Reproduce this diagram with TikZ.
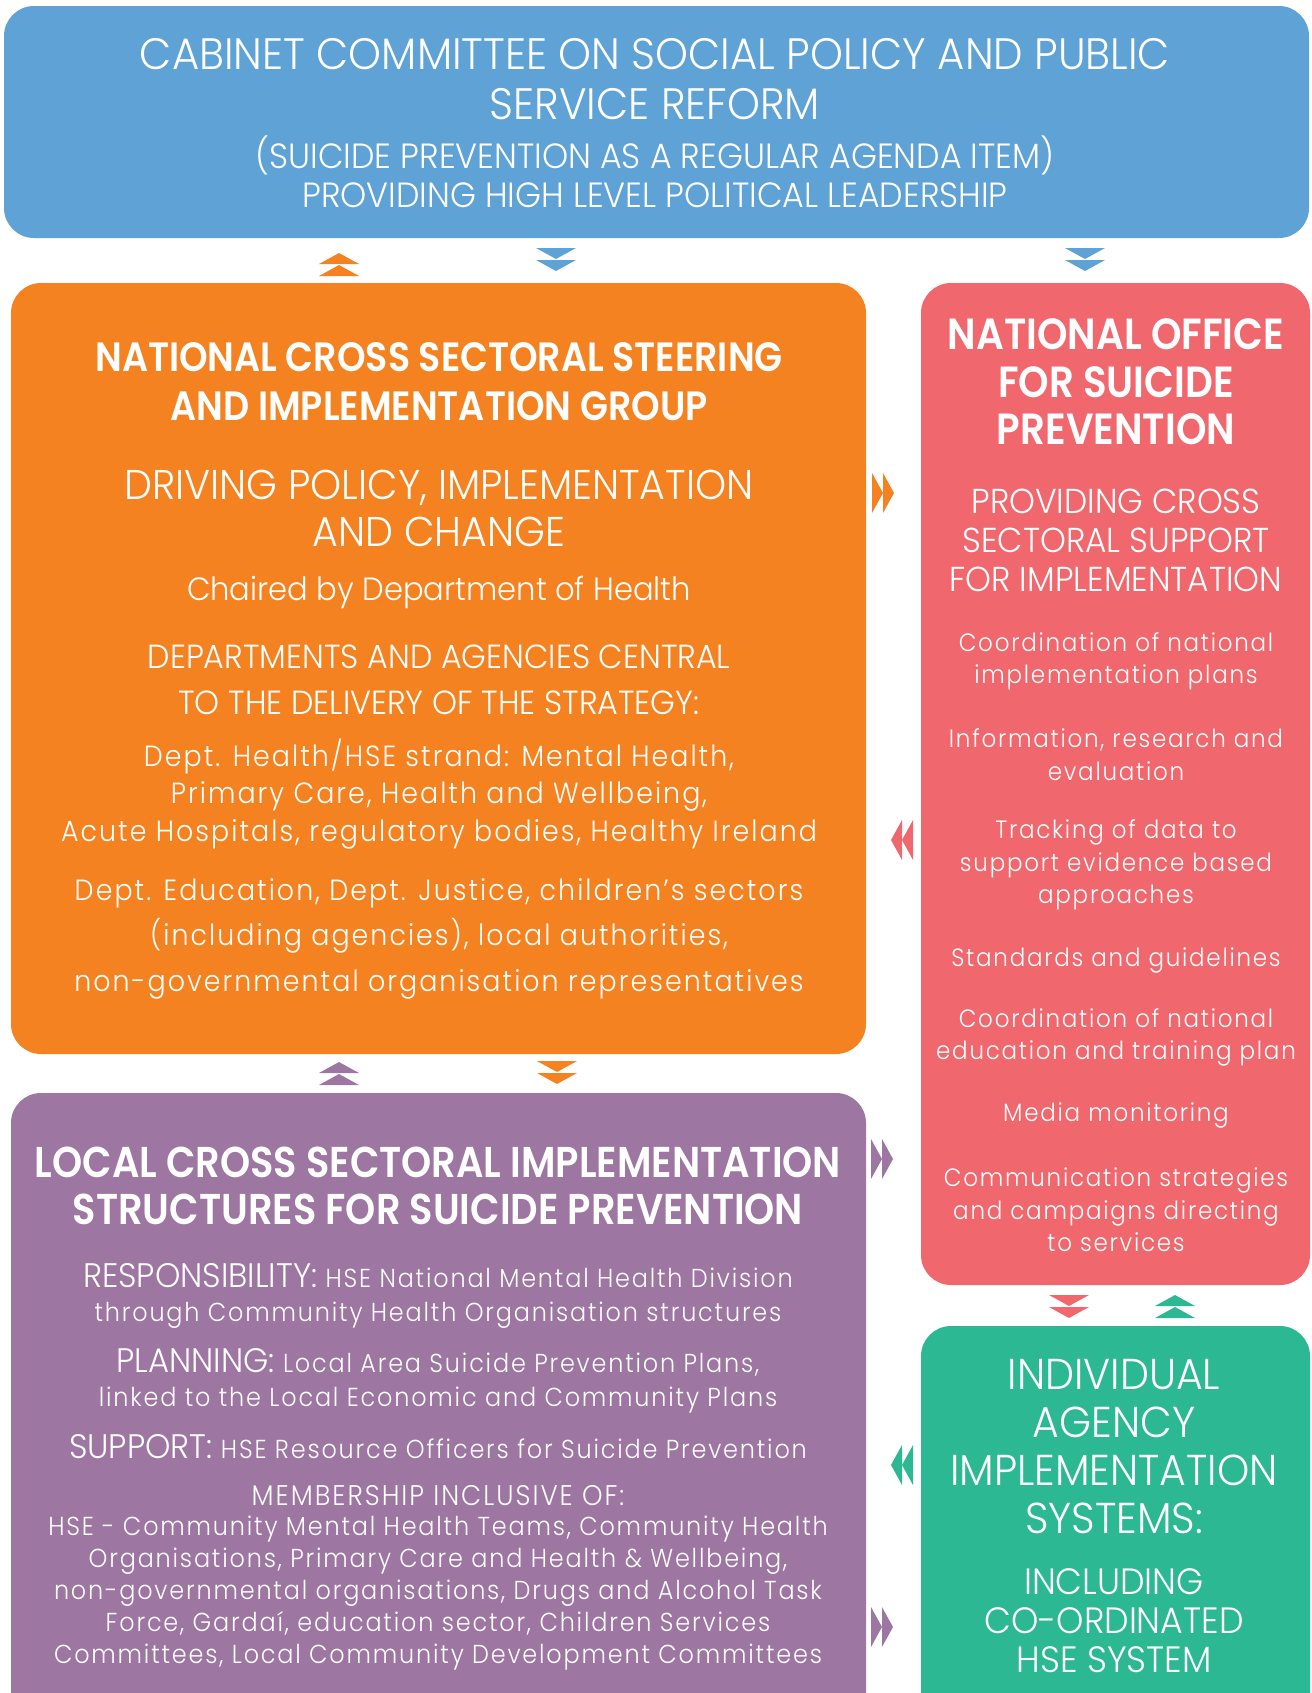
\documentclass[tikz,border=0pt]{standalone}
\usepackage{fontspec}
\setmainfont{Poppins}
% lighter weights where they are installed, regular/bold otherwise
\IfFontExistsTF{Poppins Light}
  {\newfontfamily\titlefont[FakeStretch=0.95]{Poppins Light}
   \newfontfamily\bodyfont[FakeStretch=0.92,LetterSpace=7]{Poppins Light}}
  {\newfontfamily\titlefont[FakeStretch=0.93]{Poppins}
   \newfontfamily\bodyfont[FakeStretch=0.9,LetterSpace=7]{Poppins}}
\IfFontExistsTF{Poppins SemiBold}
  {\newfontfamily\headfont[FakeStretch=0.89]{Poppins SemiBold}\newcommand\hdweight{}}
  {\newfontfamily\headfont[FakeStretch=0.86]{Poppins}\newcommand\hdweight{\bfseries}}

\definecolor{cblue}{RGB}{95,162,214}
\definecolor{corange}{RGB}{245,130,32}
\definecolor{cred}{RGB}{240,104,109}
\definecolor{cpurple}{RGB}{157,118,162}
\definecolor{cgreen}{RGB}{44,184,146}

\tikzset{
  panel/.style={rounded corners=15pt},
  txt/.style={text=white, align=center, inner sep=0pt},
  ttl/.style={txt, font=\titlefont\fontsize{22}{25}\selectfont},
  hd/.style={txt, font=\headfont\hdweight\fontsize{21.5}{24.5}\selectfont},
  bodytxt/.style={txt, font=\bodyfont\fontsize{12.5}{16.2}\selectfont},
  chevup/.pic={
    \fill (-20,0) -- (0,-11) -- (20,0) -- cycle;
    \fill (-20,12) -- (0,1) -- (20,12) -- cycle;},
  chevdown/.pic={
    \fill (-20,-12) -- (0,-1) -- (20,-12) -- cycle;
    \fill (-20,0) -- (0,11) -- (20,0) -- cycle;},
  chevright/.pic={
    \fill (-11,-20) -- (0,0) -- (-11,20) -- cycle;
    \fill (0,-20) -- (11,0) -- (0,20) -- cycle;},
  chevleft/.pic={
    \fill (11,-20) -- (0,0) -- (11,20) -- cycle;
    \fill (0,-20) -- (-11,0) -- (0,20) -- cycle;},
}
\newcommand{\leadword}[1]{{\titlefont\fontsize{17}{17}\selectfont #1}}

\begin{document}
\begin{tikzpicture}[x=0.5pt,y=-0.5pt]
\useasboundingbox (0,0) rectangle (1312,1693);
\clip (0,0) rectangle (1312,1693);

% panels
\fill[cblue, panel] (4,6) rectangle (1309,238);
\fill[corange, panel] (11,283) rectangle (866,1054);
\fill[cred, panel] (921,283) rectangle (1310,1285);
\fill[cpurple, panel] (11,1093) rectangle (866,1760);
\fill[cgreen, panel] (921,1326) rectangle (1310,1760);

% cabinet committee
\node[ttl] (cab) at (655,79) {CABINET COMMITTEE ON SOCIAL POLICY AND PUBLIC\\SERVICE REFORM};
\node[txt, font=\titlefont\fontsize{17.5}{19.5}\selectfont] (cabsub) at (655,171.5)
  {(SUICIDE PREVENTION AS A REGULAR AGENDA ITEM)\\PROVIDING HIGH LEVEL POLITICAL LEADERSHIP};

% steering group
\node[hd, font=\headfont\hdweight\fontsize{20.45}{24.5}\selectfont] (steer) at (439,381.5) {NATIONAL CROSS SECTORAL STEERING\\AND IMPLEMENTATION GROUP};
\node[txt, font=\titlefont\fontsize{20.8}{23.5}\selectfont] (drive) at (439,508.5) {DRIVING POLICY, IMPLEMENTATION\\AND CHANGE};
\node[txt, font=\titlefont\fontsize{16.1}{20}\selectfont] (chair) at (439,592) {Chaired by Department of Health};
\node[txt, font=\titlefont\fontsize{16.7}{23}\selectfont] (depts) at (439,680) {DEPARTMENTS AND AGENCIES CENTRAL\\TO THE DELIVERY OF THE STRATEGY:};
\node[txt, font=\bodyfont\fontsize{14.6}{18.75}\selectfont] (hse) at (439,794)
  {Dept. Health/HSE strand: Mental Health,\\Primary Care, Health and Wellbeing,\\Acute Hospitals, regulatory bodies, Healthy Ireland};
\node[txt, font=\bodyfont\fontsize{14.6}{22.75}\selectfont] (edu) at (439,938.5)
  {Dept. Education, Dept. Justice, children’s sectors\\(including agencies), local authorities,\\non-governmental organisation representatives};

% national office
\node[hd, font=\headfont\hdweight\fontsize{21.8}{23.75}\selectfont] (office) at (1116,382) {NATIONAL OFFICE\\FOR SUICIDE\\PREVENTION};
\node[txt, font=\titlefont\fontsize{17.3}{19.5}\selectfont] (support) at (1116,540) {PROVIDING CROSS\\SECTORAL SUPPORT\\FOR IMPLEMENTATION};
\node[bodytxt] (it1) at (1116,661) {Coordination of national\\implementation plans};
\node[bodytxt] (it2) at (1116,754.5) {Information, research and\\evaluation};
\node[bodytxt] (it3) at (1116,865) {Tracking of data to\\support evidence based\\approaches};
\node[bodytxt] (it4) at (1116,960) {Standards and guidelines};
\node[bodytxt] (it5) at (1116,1037.5) {Coordination of national\\education and training plan};
\node[bodytxt] (it6) at (1116,1115) {Media monitoring};
\node[bodytxt] (it7) at (1116,1210) {Communication strategies\\and campaigns directing\\to services};

% local structures
\node[hd, font=\headfont\hdweight\fontsize{21.56}{23.5}\selectfont] (local) at (438,1185.5) {LOCAL CROSS SECTORAL IMPLEMENTATION\\STRUCTURES FOR SUICIDE PREVENTION};
\node[txt, font=\bodyfont\fontsize{13}{17}\selectfont] (resp) at (438,1295.5)
  {\leadword{RESPONSIBILITY:} HSE National Mental Health Division\\through Community Health Organisation structures};
\node[txt, font=\bodyfont\fontsize{13}{17}\selectfont] (plan) at (438,1380.5)
  {\leadword{PLANNING:} Local Area Suicide Prevention Plans,\\linked to the Local Economic and Community Plans};
\node[txt, font=\bodyfont\fontsize{13}{17}\selectfont] (supp) at (438,1447)
  {\leadword{SUPPORT:} HSE Resource Officers for Suicide Prevention};
\node[txt, font=\bodyfont\fontsize{14.2}{16}\selectfont] (memhd) at (438,1496) {MEMBERSHIP INCLUSIVE OF:};
\node[txt, font=\bodyfont\fontsize{13}{16}\selectfont] (members) at (438,1593)
  {HSE - Community Mental Health Teams, Community Health\\Organisations, Primary Care and Health \& Wellbeing,\\non-governmental organisations, Drugs and Alcohol Task\\Force, Gardaí, education sector, Children Services\\Committees, Local Community Development Committees};

% individual agency
\node[txt, font=\titlefont\fontsize{21.6}{23.85}\selectfont] (agency) at (1114,1446.5) {INDIVIDUAL\\AGENCY\\IMPLEMENTATION\\SYSTEMS:};
\node[txt, font=\titlefont\fontsize{18.3}{19.5}\selectfont] (coord) at (1114,1621) {INCLUDING\\CO-ORDINATED\\HSE SYSTEM};

% flow markers between panels
\pic[corange] at (339,264) {chevup};
\pic[cblue] at (556,260) {chevdown};
\pic[cblue] at (1085,260) {chevdown};
\pic[corange] at (883,493) {chevright};
\pic[cred] at (902,840) {chevleft};
\pic[cpurple] at (339,1073) {chevup};
\pic[corange] at (557,1073) {chevdown};
\pic[cpurple] at (882,1159) {chevright};
\pic[cred] at (1069,1307) {chevdown};
\pic[cgreen] at (1175,1306) {chevup};
\pic[cgreen] at (902,1465) {chevleft};
\pic[cpurple] at (882,1627) {chevright};
\end{tikzpicture}
\end{document}
